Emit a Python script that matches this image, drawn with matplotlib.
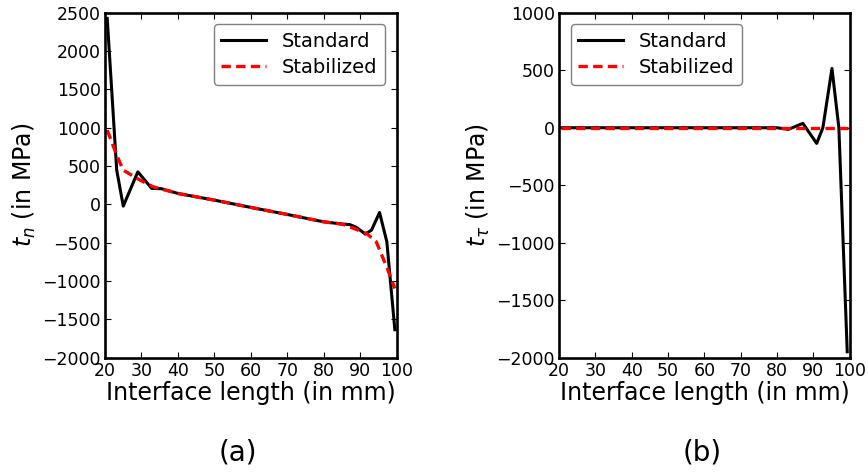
import matplotlib
matplotlib.use("Agg")
import matplotlib.pyplot as plt

# normal traction t_n along the interface
xn_std = [20.6, 23.2, 25.0, 29.0, 32.8, 35.5, 40, 50, 60, 70, 80, 85, 87.1, 89.0, 91.4, 93.1, 95.3, 97.3, 99.5]
tn_std = [2426, 449, -22, 425, 209, 205, 143, 56, -39, -131, -227, -255, -262, -300, -387, -335, -105, -487, -1634]
xn_stab = [20.6, 23.2, 25.0, 27.3, 29.6, 33.2, 40, 50, 60, 70, 80, 85, 87.1, 91.7, 94.4, 97.6, 99.5]
tn_stab = [969, 643, 447, 382, 317, 230, 143, 56, -39, -131, -227, -257, -292, -378, -487, -857, -1096]

# tangential traction t_tau along the interface
xt_std = [20.6, 30, 40, 50, 60, 70, 80, 83.1, 87.1, 90.9, 92.6, 95.1, 97.0, 99.3]
tt_std = [0, 0, 0, 0, 0, 0, 0, -14, 38, -136, 0, 516, 0, -1948]
xt_stab = [20.6, 30, 40, 50, 60, 70, 80, 90, 99.4]
tt_stab = [0, 0, 0, 0, 0, 0, 0, 0, 0]

xticks = list(range(20, 101, 10))
yticks_n = list(range(-2000, 2501, 500))
yticks_t = list(range(-2000, 1001, 500))

plt.rcParams["font.family"] = "DejaVu Sans"
plt.rcParams["mathtext.fontset"] = "dejavusans"

fig = plt.figure(figsize=(8.68, 4.72), dpi=100)
ax1 = fig.add_axes([0.121, 0.242, 0.336, 0.731])
ax2 = fig.add_axes([0.644, 0.242, 0.335, 0.731])


def style(ax, yticks, ylim):
    ax.set_xlim(20, 100)
    ax.set_ylim(*ylim)
    ax.set_xticks(xticks)
    ax.set_yticks(yticks)
    ax.tick_params(direction="in", length=4, width=0.8, top=True, right=True,
                   labelsize=12.5, pad=3)
    for s in ax.spines.values():
        s.set_linewidth(1.9)
    ax.set_xlabel("Interface length (in mm)", fontsize=17, labelpad=1)


ax1.plot(xn_std, tn_std, color="black", lw=2.2, label="Standard")
ax1.plot(xn_stab, tn_stab, color="red", lw=2.4, dashes=(2.8, 1.6), label="Stabilized")
style(ax1, yticks_n, (-2000, 2500))
ax1.set_ylabel("$t_n$ (in MPa)", fontsize=17, labelpad=3)
ax1.legend(loc="upper right", fontsize=14, handlelength=2.3, fancybox=True,
           edgecolor="gray", framealpha=1, borderaxespad=0.6, labelspacing=0.35)

ax2.plot(xt_std, tt_std, color="black", lw=2.2, label="Standard")
ax2.plot(xt_stab, tt_stab, color="red", lw=2.4, dashes=(2.8, 1.6), label="Stabilized")
style(ax2, yticks_t, (-2000, 1000))
ax2.set_ylabel(r"$t_\tau$ (in MPa)", fontsize=17, labelpad=3)
ax2.legend(loc="upper left", fontsize=14, handlelength=2.3, fancybox=True,
           edgecolor="gray", framealpha=1, borderaxespad=0.6, labelspacing=0.35)

fig.text(0.274, 0.042, "(a)", fontsize=20, ha="center", va="center")
fig.text(0.809, 0.042, "(b)", fontsize=20, ha="center", va="center")

fig.savefig("out.png", dpi=100)
